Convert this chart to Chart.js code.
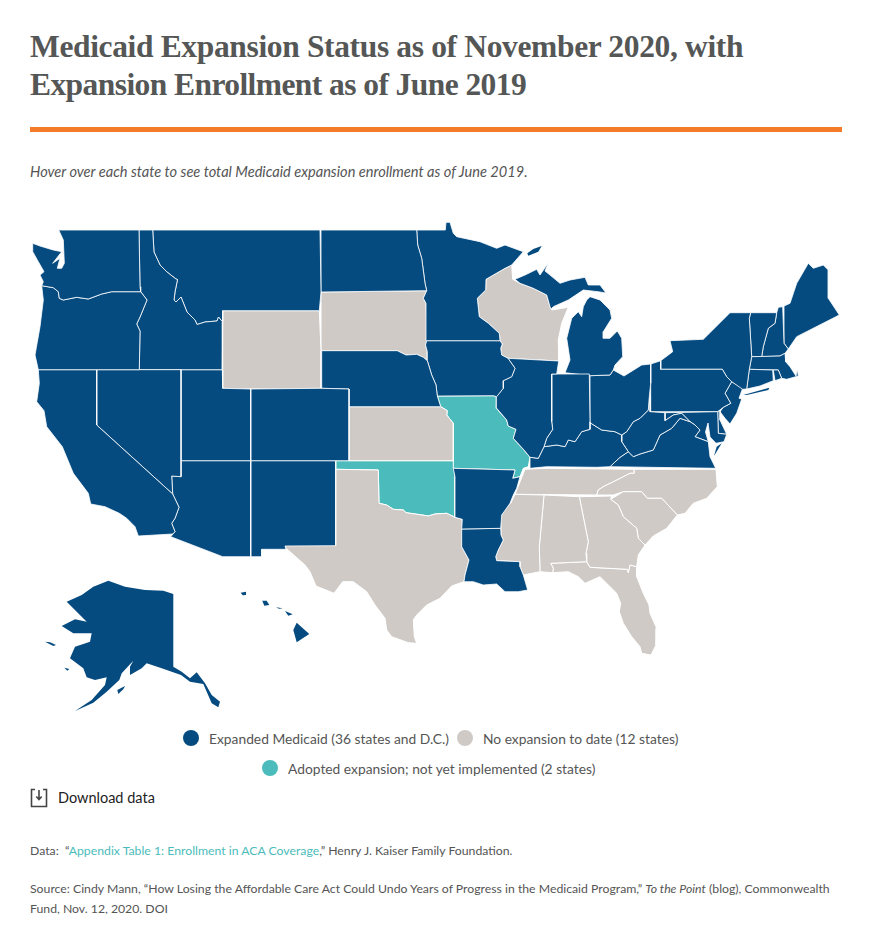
<!DOCTYPE html>
<html><head><meta charset="utf-8">
<script src="https://cdn.jsdelivr.net/npm/chart.js@4"></script>
<style>
html,body{margin:0;padding:0;background:#fff;width:872px;height:948px;overflow:hidden}
.t{position:absolute;white-space:nowrap;font-family:Lato,sans-serif}
.title{left:30px;font:bold 31.5px "Liberation Serif",serif;color:#555756;letter-spacing:-.35px}
.leg{font-size:13.8px;color:#555;font-weight:400}
.dot{position:absolute;width:16px;height:16px;border-radius:50%}
.note{font-size:12.25px;color:#555;left:30px;font-weight:400}
#mapbox{position:absolute;left:0;top:200px;width:872px;height:520px}
</style></head><body>
<div class="t title" style="top:29px">Medicaid Expansion Status as of November 2020, with</div>
<div class="t title" style="top:67px;letter-spacing:-.57px">Expansion Enrollment as of June 2019</div>
<div style="position:absolute;left:30px;top:127px;width:812px;height:5px;background:#f47b28"></div>
<div class="t" style="left:30px;top:163px;font-size:14.6px;font-style:italic;color:#555;font-weight:400">Hover over each state to see total Medicaid expansion enrollment as of June 2019.</div>
<div id="mapbox"><canvas id="c" width="872" height="520"></canvas></div>
<div class="dot" style="left:183px;top:730px;background:#054b80"></div>
<div class="t leg" style="left:209px;top:730px">Expanded Medicaid (36 states and D.C.)</div>
<div class="dot" style="left:457px;top:730px;background:#cfcac6"></div>
<div class="t leg" style="left:483px;top:730px">No expansion to date (12 states)</div>
<div class="dot" style="left:262px;top:760px;background:#4bbcbb"></div>
<div class="t leg" style="left:288px;top:760px">Adopted expansion; not yet implemented (2 states)</div>
<svg style="position:absolute;left:30px;top:788px" width="18" height="20" viewBox="0 0 18 20" fill="none" stroke="#444" stroke-width="1.6"><path d="M5 1.5H1.5V18.5H16.5V1.5H13"/><path d="M9 2V11M6.3 8.5L9 11.5L11.7 8.5"/></svg>
<div class="t" style="left:58px;top:789px;font-size:14.5px;color:#222">Download data</div>
<div class="t note" style="top:843px">Data:&nbsp; “<span style="color:#4bbcbb">Appendix Table 1: Enrollment in ACA Coverage</span>,” Henry J. Kaiser Family Foundation.</div>
<div class="t note" style="top:881px">Source: Cindy Mann, “How Losing the Affordable Care Act Could Undo Years of Progress in the Medicaid Program,” <i>To the Point</i> (blog), Commonwealth</div>
<div class="t note" style="top:901px">Fund, Nov. 12, 2020. DOI</div>
<script>
const expanded=["WA","OR","CA","NV","ID","MT","UT","CO","AZ","NM","ND","NE","MN","IA","IL","IN","MI","MI2","OH","KY","WV","VA","MD","DE","PA","NY","NJ","CT","RI","MA","VT","NH","ME","AR","LA"];
const expandedIslands=["AK","AK2","AK3","AK4","HI","HI2","HI3","HI4","HI5","MI3","VA2","NY2"];
const noExpansion=["WY","SD","KS","TX","WI","MS","AL","GA","SC","NC","TN","FL"];
const adopted=["MO","OK"];
const shapes={
WA:[58.7,230,139,230,140,286.7,140.7,291.7,111.7,291.7,101.7,294,88.3,299,76.7,297.3,63.3,300,59.3,298.3,58.3,291.7,53.3,287.7,41.7,285.7,43.3,281.7,40,275,44,271.7,38.3,261.7,32.7,251.7,32.7,243.3,40,246,53.3,250,61.7,251.7,52.7,263.3,60,258.3,57.3,268.3,61.7,268.3,64.3,263.3,63.3,240],
OR:[41.7,285.7,53.3,287.7,58.3,291.7,59.3,298.3,63.3,300,76.7,297.3,88.3,299,101.7,294,111.7,291.7,140.7,291.7,147,300,140,317,136.7,324,140,331,139.3,369.7,38.3,369.7,35,355,40,326.7,43.3,300],
ID:[139,230,152.7,230,154,252,160,265,167,272,176,279,177.5,279.5,175,292,174,300,176,302,181,297,187,312,190,315,195,320,197,324.5,205,322,217,321,218.5,317,222.7,322,222.3,369.7,139.3,369.7,140,331,136.7,324,140,317,147,300,140.7,291.7,140,286.7],
MT:[152.7,230,320,230,321,292,319.3,310.7,222.7,310.7,222.7,322,218.5,317,217,321,205,322,197,324.5,195,320,190,315,187,312,181,297,176,302,174,300,175,292,177.5,279.5,176,279,167,272,160,265,154,252],
WY:[222.7,310.7,319.3,310.7,321,350.7,321,388.3,250.7,389,222.7,388.3],
CA:[38.3,369.7,96.7,369.7,96.7,425,172.7,494,179,507.3,175,518.3,171.7,523.3,175,531.7,172.7,534,138.3,536,135,526.7,126.7,518.3,119.3,513.3,105,506.7,90.7,504,88.3,493.3,73.3,473.3,62.3,446.7,46.7,426.7,44,410.7,36.7,401.7,39.3,383.3],
NV:[96.7,369.7,181,369.7,181,460.7,181,476.7,171.7,476,172.7,494,96.7,425],
UT:[181,369.7,222.3,369.7,222.7,388.3,250.7,389,250.7,460.7,181,460.7],
CO:[250.7,389,321,388.3,349,389,349,460.7,250.7,460.7],
AZ:[181,460.7,250.7,460.7,250.7,556.7,222.7,556.7,170.7,536.7,175,531.7,171.7,523.3,175,518.3,179,507.3,172.7,494,171.7,476,181,476.7],
NM:[250.7,460.7,335.7,460.7,335.7,545.7,285,546,286,549.3,261.7,549.3,261.7,556.7,250.7,556.7],
ND:[321,230,416.7,230,417.7,245,421.7,258.3,425,283.3,426.7,290.7,321,292],
SD:[321,292,426.7,290.7,423.3,298.3,426,303.3,427.3,340.7,425.5,345,427.3,351.7,427.3,360.7,423.3,357.3,416.7,354.3,406,355,397.3,350.7,321.7,350.7],
NE:[321.7,350.7,397.3,350.7,406,355,416.7,354.3,423.3,357.3,427.3,360.7,431.7,375,436,385,437.3,396,440.7,406.7,349,406.7,349,389,321,388.3],
KS:[349,406.7,440.7,406.7,447.3,410.7,446.7,415,453.3,423.3,453.3,460.7,349,460.7],
OK:[335.7,460.7,453.3,460.7,455,476.7,455,517.3,446.7,513.3,435,514,428.3,516,420,514.7,406,512.7,403.3,510,393.3,509.3,386.7,505,379,503.3,378.3,470,335.7,469.3],
TX:[335.7,469.3,378.3,470,379,503.3,386.7,505,393.3,509.3,403.3,510,406,512.7,420,514.7,428.3,516,435,514,446.7,513.3,455,517.3,462.3,519.3,461.7,546.7,469,560,465,575,464,581.7,451.7,586,440,598.3,426.7,605,416.7,615,413.3,620,414.3,636.7,416.7,643.3,408.3,642.7,391.7,636.7,386.7,630,385,618.3,375,605,366.7,591.7,353.3,581.7,342.7,581.7,334,593.3,316,586,310,571.7,305,565,285,547.3,285,545.7],
MN:[416.7,230,445.3,230,446,222.3,450,222.3,453.3,233.3,456.7,236.7,480,241.7,496.7,248.3,505,245,523.3,251.7,511.7,265,505,268.3,486,279.3,485.7,290,477.3,298.3,479.3,316.7,488.3,323.3,499.3,333.3,500,340.7,426.7,340.7,426,303.3,423.3,298.3,426.7,290.7,425,283.3,421.7,258.3,417.7,245],
IA:[426.7,340.7,500,340.7,502.3,344,500.7,348.3,501.7,355,508,358.3,515,368.3,511.7,376.7,503.3,380.7,503.3,388.3,496.7,396.7,493.3,395.7,437.3,396,436,385,431.7,375,427.3,360.7,427.3,351.7,425.5,345],
WI:[511.7,265,512.7,279.3,520,283.3,533.3,288.3,546.7,295,550,306.7,551.7,310,568.3,307.3,561.7,323.3,558.3,340,558.7,361,508,358.3,501.7,355,500.7,348.3,502.3,344,500,340.7,499.3,333.3,488.3,323.3,479.3,316.7,477.3,298.3,485.7,290,486,279.3,505,268.3],
MI:[515,279.3,525,275,536.7,269.3,540,275,548.3,262.7,545,271,550,275,560,283.3,570,280,585,277.3,588.3,285,600,285,606,293,598,291.7,583.3,290,568.3,300,553.3,306.7,551,309,550,306.7,546.7,295,533.3,288.3,520,283.3],
MI2:[565,372.7,570,360,566.7,338.3,571.7,318.3,578.3,311.7,581.7,316.7,583.3,306.7,586.7,300,590,296.7,600,300,610,310,611.7,318.3,603.3,331.7,603.3,338.3,610,338.3,617.3,331,621.7,338.3,622.7,356.7,615,365,613.3,370,610,375,590,375.7],
MI3:[527.3,253.3,533.3,249,541.7,246,538.3,251.7,528.3,255.7],
IL:[508,358.3,558.7,361,556.7,374,551.7,374,551.7,421.7,552.7,429.3,546.7,438.3,544,446.7,538.3,458.3,530,457.3,524,450,513.3,438.3,516,429.3,508.3,426,506.7,420,496.7,408.3,496,400,496.7,396.7,503.3,388.3,503.3,380.7,511.7,376.7,515,368.3],
MO:[437.3,396,493.3,395.7,496.7,396.7,496,400,496.7,408.3,506.7,420,508.3,426,516,429.3,513.3,438.3,524,450,530,457.3,528.3,466.7,523.3,468.3,520,476.7,512.7,478.3,515,470,453.3,468.3,453.3,460.7,453.3,423.3,446.7,415,447.3,410.7,440.7,406.7],
AR:[453.3,468.3,515,470,512.7,478.3,520,476.7,516.7,488.3,513.3,495,510,503.3,501.7,515,500.7,528.3,461.7,529,462.3,519.3,455,517.3,455,476.7],
LA:[461.7,529,500.7,528.3,501,535,503.3,540,498.3,550,495.7,556.7,496.7,560.7,520,561.7,520,566.7,523.3,575,525.7,583.3,527.7,590,518.3,591.7,505,591.7,496.7,584,483.3,585,473.3,581.7,464,581.7,465,575,469,560,461.7,546.7],
MS:[515,494.3,544,495,539.3,546.7,540,571.7,523.3,575,520,566.7,520,561.7,496.7,560.7,495.7,556.7,498.3,550,503.3,540,501,535,500.7,516.7,505,508.3,510.7,503.3],
AL:[544,495,579.3,496.7,588.3,541.7,586,553.3,586.7,561.7,550.7,563.3,553.3,568.3,552.7,572.7,540,571.7,539.3,546.7],
GA:[579.3,496.7,611.7,496,610.7,499.3,618.3,505,623.3,516.7,636.7,528.3,638.3,538.3,645,545,638.3,555,636.7,566.7,630,565,628.3,572.7,627.3,569.3,590,567.3,586.7,561.7,586,553.3,588.3,541.7],
SC:[610.7,499.3,623.3,491.7,641.7,491.7,647.3,498.3,661.7,498.3,677.3,515,666.7,528.3,653.3,536,645,545,638.3,538.3,636.7,528.3,623.3,516.7,618.3,505],
NC:[634.3,469.3,716,469.3,717.3,486.7,706.7,498.3,693.3,503.3,685,513.3,677.3,515,661.7,498.3,647.3,498.3,641.7,491.7,623.3,491.7,613.3,495,596.7,495,598.3,490,603.3,486.7,618.3,479.3,630,473.3,634.3,473.3],
TN:[525,469.3,545,468.3,634.3,469.3,634.3,473.3,630,473.3,618.3,479.3,603.3,486.7,598.3,490,596.7,495,515,494.3,520,481.7],
FL:[586.7,561.7,590,567.3,627.3,569.3,628.3,572.7,630,565,636.7,566.7,636.7,576.7,643.3,593.3,649,605,650,613.3,656.7,628.3,656,645,651,655,641.7,653.3,640,646.7,631.7,636.7,623.3,623.3,619.3,611.7,620.7,603.3,616.7,593.3,600,576.7,585,583.3,578.3,576.7,568.3,571.7,552.7,572.7,553.3,568.3,550.7,563.3],
IN:[551.7,374,589.3,374,590,421.7,590,429.3,581.7,431.7,575,441.7,568.3,440,565,446.7,556.7,445,544,446.7,546.7,438.3,552.7,429.3,551.7,421.7],
OH:[590,375.7,610,375,613.3,370,624,376,641.7,365,650.7,364,650.7,383.3,649.3,396.7,648.3,410,640,418.3,633.3,421.7,626.7,431.7,621.7,435,615,431.7,601.7,430,590,422.7],
KY:[590,422.7,601.7,430,615,431.7,621.7,435,621.7,441.7,628.3,451.7,620,457.3,610,466.7,596.7,467.3,546.7,466.7,530,468.3,530,457.3,538.3,458.3,544,446.7,556.7,445,565,446.7,568.3,440,575,441.7,581.7,431.7,590,429.3],
WV:[650,396,650,411.7,665,412.7,665,420.7,673.3,415,681.7,413.3,690,421.7,680,418.3,671.7,428.3,660,435,653.3,450,640,454,633.3,456.7,628.3,451.7,621.7,441.7,621.7,435,626.7,431.7,633.3,421.7,640,418.3,648.3,410],
VA:[610,466.7,620,457.3,628.3,451.7,633.3,456.7,640,454,653.3,450,660,435,671.7,428.3,680,418.3,690,421.7,695,425,700,430,695,436.7,708.3,441.7,710,456.7,715.7,468.3],
VA2:[721.7,443.3,714,456,716.7,446.7],
MD:[665,412.7,717.7,411.7,718.3,433.3,726.7,434.3,724,441.7,716,443.3,710,437,708,423,705.5,432,708.3,441.7,695,436.7,700,430,695,425,690,421.7,681.7,413.3,673.3,415,665,420.7],
DE:[717.7,411.7,720,410.7,720,420,726.7,434.3,718.3,433.3],
PA:[660.7,360.7,660.7,369.3,722.3,369.3,726.7,376.7,731.7,381.7,725,393.3,730.7,403.3,723.3,407.3,717.7,411.7,650,411.7,650.7,364],
NY:[660.7,360.7,672.7,351.7,670,340.7,703.3,339.3,730,312.7,750.7,312.7,749.3,318.3,751.7,356.7,749.3,369.3,746.7,389,742.7,389.3,731.7,381.7,726.7,376.7,722.3,369.3,660.7,369.3],
NY2:[743.3,395,769.3,387.7,768.3,390,746.7,395],
NJ:[731.7,381.7,742.7,388.3,739,398.3,741.7,399,736.7,413.3,730,424,725,418.3,720,411.7,723.3,407.3,730.7,403.3,725,393.3],
CT:[749.3,369.3,772.7,370,773.3,380.7,760,386,746.7,389],
RI:[773.3,370,778.3,370,781.7,378.3,775,380.7],
MA:[751.7,356.7,780,356,785,353.3,785.7,361.7,790,366.7,796,376,797.3,369.3,798.3,376,786.7,379.3,781.7,378.3,778.3,370,749.3,369.3],
VT:[750.7,312.7,776.7,312.7,775,323.3,768.3,328.3,763.3,346.7,761.7,356.7,751.7,356.7,749.3,318.3],
NH:[778.3,307.3,782.7,306.7,784,343.3,788.3,349,785,353.3,780,356,761.7,356.7,763.3,346.7,768.3,328.3,775,323.3,776.7,312.7],
ME:[784,306,790,303.3,796.7,283.3,808.3,263.3,813.3,268.3,823.3,265,828.3,270,828.3,298.3,839.3,315,796.7,336.7,788.3,349,784,343.3],
AK:[173.3,594,173.3,666.7,181.7,671.7,190,678.3,196.7,672.3,205,683.3,211.7,695,220,701.7,218.3,707.3,211.7,703.3,203.3,684,190,681.7,181,675,161.7,668.3,146.7,663.3,141.7,668.3,130,675,130,666.7,133.3,660.7,121.7,673.3,119.3,680,106.7,691.7,93.3,702.7,75,711,91.7,700,105,685,106.7,677.3,95,680,86.7,677.3,83.3,668.3,70,658.3,75,646.7,90,641.7,91.7,633.3,73.3,633.3,61.7,626,75,619.3,86.7,621.7,66.7,601.7,81.7,595,93.3,586.7,108.3,580.7,125,586.7,145,590,163.3,590.7],
AK2:[117.3,690,125,686,123.3,689.3,118.3,694],
AK3:[45,641.7,50,642.3,56,645,53.3,646],
AK4:[64.3,667.7,69.3,669,67.3,670.7],
HI:[296.7,622.7,309.3,634,296.7,642.3,293.3,630],
HI2:[285,611,292.7,614.3,288.3,615.7],
HI3:[276,607.3,282.7,608.3,279,608.8],
HI4:[262.3,600.7,266.7,600.7,269.3,605,264.3,605.7],
HI5:[240.7,592.7,246,591.7,246,595,242.7,595.3]
};
const statusColors={expanded:"#054b80",noExpansion:"#cfcac6",adopted:"#4bbcbb"};
function toPoints(a){const p=[];for(let i=0;i<a.length;i+=2)p.push({x:a[i],y:a[i+1]});p.push({x:a[0],y:a[1]});return p;}
function ds(names,color,line,w){return names.map(n=>({label:n,data:toPoints(shapes[n]),showLine:true,fill:'shape',backgroundColor:color,borderColor:line,borderWidth:w,borderJoinStyle:'round',pointRadius:0,pointHoverRadius:0,tension:0}));}
new Chart(document.getElementById('c'),{type:'scatter',
data:{datasets:[...ds(expanded,statusColors.expanded,'rgba(255,255,255,.8)',1),...ds(expandedIslands,statusColors.expanded,'rgba(0,0,0,0)',0),...ds(noExpansion,statusColors.noExpansion,'#fff',1),...ds(adopted,statusColors.adopted,'#fff',1)]},
options:{responsive:false,animation:false,devicePixelRatio:1,layout:{padding:0},
plugins:{legend:{display:false},tooltip:{enabled:false}},
scales:{x:{type:'linear',min:0,max:872,display:false},y:{type:'linear',min:200,max:720,reverse:true,display:false}}}});
</script>
</body></html>
